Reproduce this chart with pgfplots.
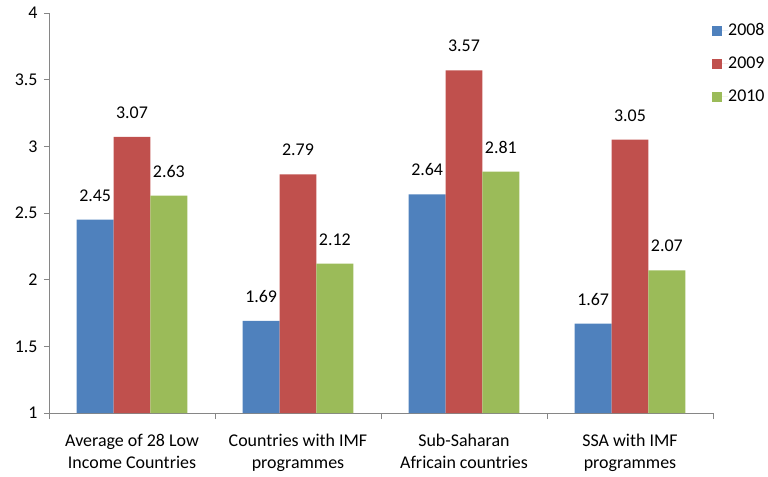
\documentclass[border=0pt]{standalone}
\usepackage{pgfplots}
\pgfplotsset{compat=1.18}
\usepackage{fontspec}
\setmainfont{Carlito}
\definecolor{c08}{HTML}{4F81BD}
\definecolor{c09}{HTML}{C0504D}
\definecolor{c10}{HTML}{9BBB59}
\definecolor{axgray}{HTML}{868686}
\begin{document}
\begin{tikzpicture}
\begin{axis}[
  at={(0,0)}, anchor=south west,
  scale only axis, width=664bp, height=400bp,
  font=\fontsize{18}{22}\selectfont,
  /pgf/number format/assume math mode=true,
  ybar=0pt, bar width=0.222,
  xmin=-0.5, xmax=3.5, ymin=1, ymax=4,
  axis lines*=left,
  axis line style={axgray, line width=0.8pt},
  every tick/.style={axgray, line width=0.8pt},
  tick align=outside,
  ytick={1,1.5,2,2.5,3,3.5,4},
  major tick length=5bp,
  xtick={0,1,2,3},
  x tick style={draw=none},
  minor xtick={-0.5,0.5,1.5,2.5,3.5},
  minor x tick style={draw=axgray, line width=0.8pt},
  minor tick length=6bp,
  xticklabels={{Average of 28 Low\\Income Countries},{Countries with IMF\\programmes},{Sub-Saharan\\Africain countries},{SSA with IMF\\programmes}},
  xticklabel style={align=center, yshift=-13bp},
  yticklabel style={xshift=-3bp},
  nodes near coords,
  every node near coord/.append style={inner sep=0pt, yshift=18bp, text=black, /pgf/number format/fixed, /pgf/number format/precision=2, /pgf/number format/fixed zerofill},
  legend style={at={(rel axis cs:1,1)}, anchor=north west, xshift=-1bp, yshift=-10bp, draw=none, fill=none, inner sep=0pt, row sep=18bp,
    nodes={inner sep=0pt, text height=12bp, text depth=3bp}},
  legend cell align=left,
  legend image code/.code={\fill[#1, draw=none] (0bp,-5bp) rectangle (10bp,5bp); \path (0bp,0bp) -- (16bp,0bp);},
]
\addplot[fill=c08, draw=none] coordinates {(0,2.45) (1,1.69) (2,2.64) (3,1.67)};
\addplot[fill=c09, draw=none] coordinates {(0,3.07) (1,2.79) (2,3.57) (3,3.05)};
\addplot[fill=c10, draw=none] coordinates {(0,2.63) (1,2.12) (2,2.81) (3,2.07)};
\legend{2008,2009,2010}
\end{axis}
\pgfresetboundingbox
\path[use as bounding box] (-49bp,-64bp) rectangle (719bp,413bp);
\end{tikzpicture}
\end{document}
